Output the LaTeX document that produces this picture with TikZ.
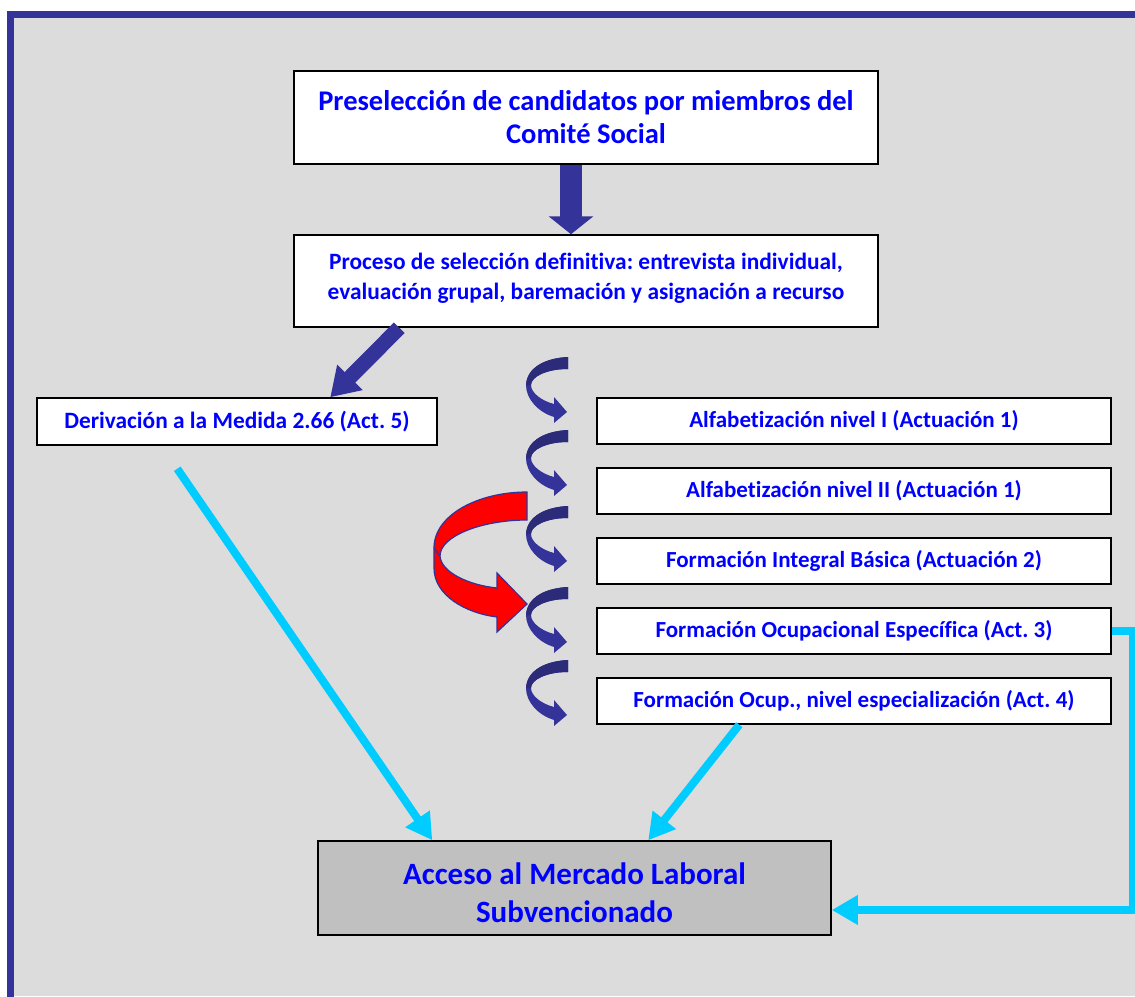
\documentclass[tikz,border=0pt]{standalone}
\usepackage{fontspec}
\setmainfont{Carlito}[Ligatures=NoCommon]
\usepackage{tikz}
\usetikzlibrary{arrows.meta}
\frenchspacing

\definecolor{fondo}{HTML}{DCDCDC}
\definecolor{marco}{HTML}{333399}
\definecolor{oscuro}{HTML}{2B2B7A}
\definecolor{celeste}{HTML}{00CCFF}
\definecolor{gris}{HTML}{C0C0C0}

\tikzset{
  caja/.style={draw=black, line width=1.5pt, fill=white, align=center,
    text=blue, font=\bfseries, inner sep=0pt},
  flechaazul/.style={draw=marco, line cap=butt},
  flechaceleste/.style={draw=celeste, line width=8pt, line cap=butt,
    line join=miter, -{Triangle[length=26pt,width=28pt]}},
  rizofrente/.style={fill=marco},
  rizofondo/.style={fill=oscuro}
}

\begin{document}
\begin{tikzpicture}[x=1pt, y=-1pt]
        \useasboundingbox (0,0) rectangle (1135,996);
        % fondo y marco
        \fill[fondo] (14,18) rectangle (1135,996);
        \draw[marco, line width=6.5pt] (10.5,1000) |- (1140,14.5);
        % cajas principales
        \node[caja, minimum width=584pt, minimum height=93pt,
              font=\fontsize{28.5}{33}\selectfont\bfseries]
              (pre) at (586,117.5) {Preselección de candidatos por miembros del\\Comité Social};
        \node[caja, minimum width=584pt, minimum height=92pt,
              font=\fontsize{23.4}{30}\selectfont\bfseries]
              (proc) at (586,281) {Proceso de selección definitiva: entrevista individual,\\evaluación grupal, baremación y asignación a recurso\\[-20pt]};
        \node[caja, minimum width=400pt, minimum height=47pt,
              font=\fontsize{23.4}{26}\selectfont\bfseries]
              (deriv) at (237,421.5) {Derivación a la Medida 2.66 (Act. 5)};
        % actuaciones
        \foreach \n/\y/\t in {alfa1/421/Alfabetización nivel I (Actuación 1),
                              alfa2/491/Alfabetización nivel II (Actuación 1),
                              fib/561/Formación Integral Básica (Actuación 2),
                              foe/631/Formación Ocupacional Específica (Act. 3),
                              fone/701/{Formación Ocup., nivel especialización (Act. 4)}}
          \node[caja, minimum width=514pt, minimum height=46pt,
                font=\fontsize{23}{26}\selectfont\bfseries]
                (\n) at (854,\y) {\t};
        \node[caja, fill=gris, minimum width=513pt, minimum height=94pt,
              font=\fontsize{31}{38}\selectfont\bfseries]
              (acceso) at (574.5,888) {\\[-6pt]Acceso al Mercado Laboral\\Subvencionado};
        % flechas gruesas
        \draw[flechaazul, line width=22pt, -{Triangle[length=18pt,width=44pt]}]
              ([xshift=-15pt]pre.south) -- ([xshift=-15pt]proc.north);
        \draw[flechaazul, line width=15pt, -{Triangle[length=28pt,width=34pt]}]
              ([xshift=106pt]proc.south west) -- ([xshift=294pt]deriv.north west);
        % flechas curvas
        \foreach \y in {357,430,506,587,660} {
          \fill[rizofrente, shift={(568,\y)}] (0,0) .. controls (-22,1) and (-41,10) .. (-42,28)
                .. controls (-42,42) and (-30,55) .. (-14,60) -- (-14,66) -- (-1,55) -- (-14,40)
                -- (-14,47) .. controls (-26,44) and (-37,36) .. (-37,28)
                .. controls (-37,20) and (-22,12) .. (0,12) -- cycle;
          \fill[rizofondo, shift={(568,\y)}] (0,0) .. controls (-22,1) and (-41,10) .. (-42,28)
                -- (-37,28) .. controls (-37,20) and (-22,12) .. (0,12) -- cycle;
        }
        % flecha roja
        \filldraw[fill=red, draw=marco, line width=1.2pt, line join=miter]
              (527,492) .. controls (478,492) and (434,515) .. (434,548) -- (434,568)
              .. controls (434,595) and (465,613) .. (497,617) -- (497,632) -- (527,604)
              -- (497,573) -- (497,588) .. controls (468,585) and (441,572) .. (440,556)
              .. controls (440,536) and (482,520) .. (527,520) -- cycle;
        \draw[marco, line width=1.2pt] (434,548) -- (440,556);
        % flechas al mercado laboral
        \draw[flechaceleste] ([xshift=141pt, yshift=-23pt]deriv.south west) -- ([xshift=115pt]acceso.north west);
        \draw[flechaceleste] ([xshift=143pt]fone.south west) -- ([xshift=331pt]acceso.north west);
        \draw[flechaceleste] (foe.east) -- ++(21,0) |- ([yshift=-22pt]acceso.east);
      \end{tikzpicture}
\end{document}
